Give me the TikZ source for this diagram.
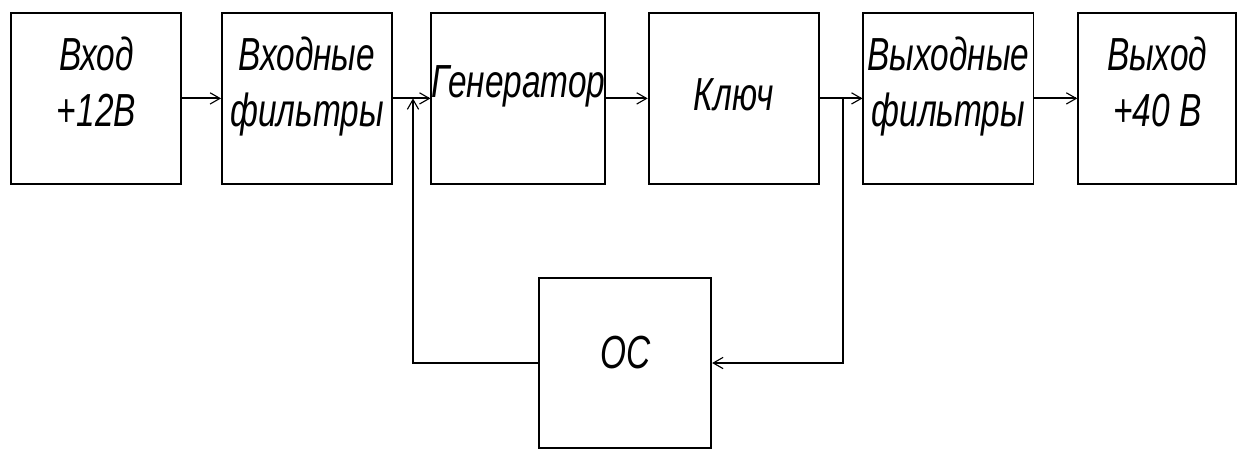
\documentclass[tikz,border=0pt]{standalone}
\usepackage{fontspec}
\setmainfont{Liberation Sans}[FakeStretch=0.72]
\usetikzlibrary{arrows.meta}

\begin{document}
\begin{tikzpicture}[line width=1.3pt,
  block/.style={draw,align=center,minimum width=4.25cm,minimum height=4.28cm,inner sep=0pt,
    text depth=0.85cm,font=\fontsize{33}{40}\selectfont\itshape},
  link/.style={-{Straight Barb[length=7pt,width=8pt,line width=0.8pt]}}]

\useasboundingbox (0,0) rectangle (30.95,11.25);

% top row
\node[block] (Vhod) at (2.41,8.79) {Вход\\+12В};
\node[block] (VhFiltr) at (7.675,8.79) {Входные\\фильтры};
\node[block] (Generator) at (12.96,8.79) {Генератор};
\node[block,text depth=0.2cm] (Kluch) at (18.34,8.79) {Ключ};
\node[block] (VyhFiltr) at (23.71,8.79) {Выходные\\фильтры};
\node[block,minimum width=3.95cm] (Vyhod) at (28.93,8.79) {Выход\\+40 В};

% feedback
\node[block,minimum width=4.3cm,minimum height=4.25cm,text depth=0.55cm] (OS) at (15.63,2.175) {ОС};

\coordinate (jL) at (10.325,8.79);
\coordinate (jR) at (21.075,8.79);

\draw[link] (Vhod) -- (VhFiltr);
\draw[link] (VhFiltr) -- (Generator);
\draw[link] (Generator) -- (Kluch);
\draw[link] (Kluch) -- (VyhFiltr);
\draw[link] (VyhFiltr) -- (Vyhod);

\draw[link] (jR) |- (OS.east);
\draw[link] (OS.west) -| (jL);

\end{tikzpicture}
\end{document}
